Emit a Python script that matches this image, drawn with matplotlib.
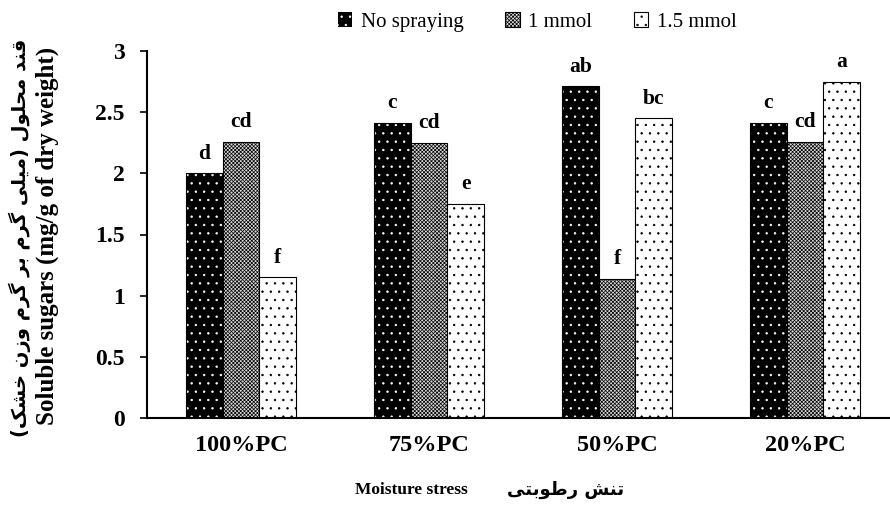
import matplotlib
matplotlib.use("Agg")
import matplotlib.pyplot as plt
import numpy as np

categories = ["100%PC", "75%PC", "50%PC", "20%PC"]
series_names = ["No spraying", "1 mmol", "1.5 mmol"]
no_spraying = [2.00, 2.41, 2.71, 2.41]
mmol_1 = [2.26, 2.25, 1.14, 2.26]
mmol_15 = [1.15, 1.75, 2.45, 2.75]
letters_no = ["d", "c", "ab", "c"]
letters_1 = ["cd", "cd", "f", "cd"]
letters_15 = ["f", "e", "bc", "a"]

ylabel_en = "Soluble sugars (mg/g of dry weight)"
ylabel_fa = "قند محلول (میلی گرم بر گرم وزن خشک)"
xlabel_en = "Moisture stress"
xlabel_fa = "تنش رطوبتی"

# matplotlib has no arabic shaping, so pick presentation forms by hand
FORMS = {
    'ق': ('\uFED5', '\uFED6', '\uFED7', '\uFED8'),
    'ن': ('\uFEE5', '\uFEE6', '\uFEE7', '\uFEE8'),
    'د': ('\uFEA9', '\uFEAA', None, None),
    'م': ('\uFEE1', '\uFEE2', '\uFEE3', '\uFEE4'),
    'ح': ('\uFEA1', '\uFEA2', '\uFEA3', '\uFEA4'),
    'ل': ('\uFEDD', '\uFEDE', '\uFEDF', '\uFEE0'),
    'و': ('\uFEED', '\uFEEE', None, None),
    '\u06CC': ('\uFBFC', '\uFBFD', '\uFBFE', '\uFBFF'),
    '\u064A': ('\uFBFC', '\uFBFD', '\uFBFE', '\uFBFF'),
    'گ': ('\uFB92', '\uFB93', '\uFB94', '\uFB95'),
    'ر': ('\uFEAD', '\uFEAE', None, None),
    'ب': ('\uFE8F', '\uFE90', '\uFE91', '\uFE92'),
    'ز': ('\uFEAF', '\uFEB0', None, None),
    'خ': ('\uFEA5', '\uFEA6', '\uFEA7', '\uFEA8'),
    'ش': ('\uFEB5', '\uFEB6', '\uFEB7', '\uFEB8'),
    '\u06A9': ('\uFB8E', '\uFB8F', '\uFB90', '\uFB91'),
    '\u0643': ('\uFB8E', '\uFB8F', '\uFB90', '\uFB91'),
    'ت': ('\uFE95', '\uFE96', '\uFE97', '\uFE98'),
    'ط': ('\uFEC1', '\uFEC2', '\uFEC3', '\uFEC4'),
}


def shape(s):
    out = []
    for i, c in enumerate(s):
        if c not in FORMS:
            out.append(c)
            continue
        prev = s[i - 1] if i > 0 else None
        nxt = s[i + 1] if i + 1 < len(s) else None
        jp = prev in FORMS and FORMS[prev][2] is not None
        jn = FORMS[c][2] is not None and nxt in FORMS
        f = FORMS[c]
        if jp and jn:
            out.append(f[3])
        elif jp:
            out.append(f[1])
        elif jn:
            out.append(f[2])
        else:
            out.append(f[0])
    mirror = {'(': ')', ')': '('}
    return ''.join(mirror.get(c, c) for c in reversed(out))


plt.rcParams['font.family'] = ['Liberation Serif', 'DejaVu Sans']
plt.rcParams['hatch.linewidth'] = 0.5

fig = plt.figure(figsize=(8.9, 5.08), dpi=100)
ax = fig.add_axes([147 / 890, 90 / 508, 743 / 890, 367 / 508])

x = np.arange(len(categories))
w = 0.195

b1 = ax.bar(x - w, no_spraying, w, color='black', edgecolor='white', hatch='..', linewidth=0)
ax.bar(x - w, no_spraying, w, fill=False, edgecolor='black', linewidth=0.8)
b2 = ax.bar(x, mmol_1, w, color='#d8d8d8', edgecolor='black', hatch='xxxxxxxxx', linewidth=0.8)
b3 = ax.bar(x + w, mmol_15, w, color='white', edgecolor='black', hatch='..', linewidth=0.8)

for off, vals, labs in [(-w, no_spraying, letters_no), (0, mmol_1, letters_1), (w, mmol_15, letters_15)]:
    for xi, v, l in zip(x, vals, labs):
        ax.annotate(l, (xi + off, v), xytext=(0, 7), textcoords='offset points',
                    ha='center', va='bottom', fontsize=15.5, fontweight='bold')

ax.set_xlim(-0.5, -0.5 + 743 / 188)
ax.set_ylim(0, 3)
ax.set_yticks(np.arange(0, 3.01, 0.5))
ax.set_yticklabels(['0', '0.5', '1', '1.5', '2', '2.5', '3'])
ax.set_xticks(x)
ax.set_xticklabels(categories)
ax.tick_params(axis='x', length=0, pad=12, labelsize=17.5)
ax.tick_params(axis='y', length=5, width=1.2, pad=11, labelsize=17)
for t in ax.get_xticklabels() + ax.get_yticklabels():
    t.set_fontweight('bold')
for s in ['top', 'right']:
    ax.spines[s].set_visible(False)
ax.spines['left'].set_linewidth(1.5)
ax.spines['bottom'].set_linewidth(1.5)

fig.legend([b1, b2, b3], series_names, loc='center', bbox_to_anchor=(537 / 890, 1 - 22 / 508),
           ncol=3, frameon=False, fontsize=15, handlelength=0.7, handleheight=0.7,
           handletextpad=0.4, columnspacing=2.0)

fig.text(47 / 890, 1 - 236 / 508, ylabel_en, rotation=90, ha='center', va='center',
         fontsize=18, fontweight='bold')
fig.text(20 / 890, 1 - 238 / 508, shape(ylabel_fa), rotation=90, ha='center', va='center',
         fontsize=14, fontweight='bold', family=['DejaVu Sans'])
fig.text(468 / 890, 1 - 490 / 508, xlabel_en, ha='right', va='center',
         fontsize=12.5, fontweight='bold')
fig.text(507 / 890, 1 - 490 / 508, shape(xlabel_fa), ha='left', va='center',
         fontsize=13, fontweight='bold', family=['DejaVu Sans'])

fig.savefig('out.png', dpi=100)
